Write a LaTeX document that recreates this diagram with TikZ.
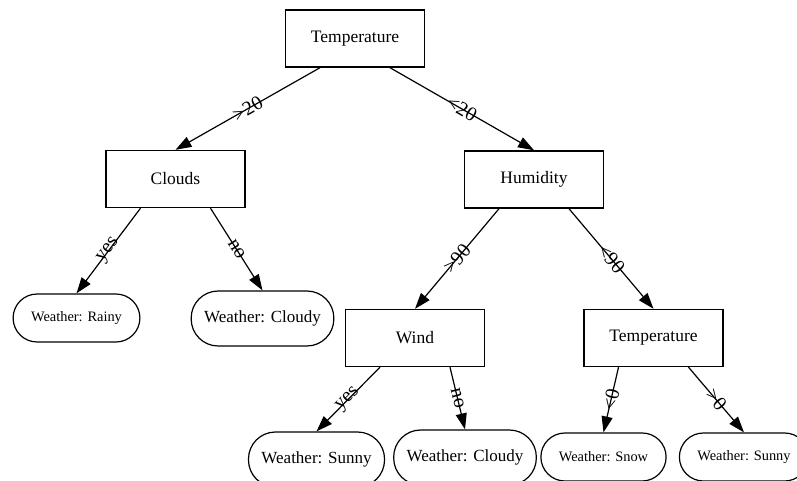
\documentclass[tikz,border=0pt]{standalone}
\usepackage{fontspec}
\setmainfont{Liberation Serif}
\usetikzlibrary{arrows.meta}
\tikzset{
    >={Triangle[length=16pt,width=11pt]},
    boks/.style={
           rectangle,
           draw=black, line width=1.4pt,
           minimum width=139pt,
           minimum height=57pt,
           font=\fontsize{17.5pt}{20pt}\selectfont,
           text centered},
    blad/.style={
           rectangle,
           draw=black, line width=1.2pt,
           rounded corners=27pt,
           minimum height=55pt,
           inner xsep=13pt,
           font=\fontsize{17pt}{20pt}\selectfont},
    smaablad/.style={
           blad,
           rounded corners=24pt,
           minimum height=48pt,
           inner xsep=18pt,
           font=\fontsize{14.4pt}{17pt}\selectfont},
    pil/.style={
           ->,
           line width=1.2pt},
    etiket/.style={
           midway, sloped,
           inner sep=0pt,
           font=\fontsize{20pt}{22pt}\selectfont}
}
\begin{document}
\begin{tikzpicture}[x=1pt,y=-1pt]
          \def \dx {35pt}
          \useasboundingbox (0,0) rectangle (797,481);
          \node[boks](rodtemp) at (355,38.5) {Temperature};
          \node[boks](clouds) at (175.5,179) {Clouds};
          \node[boks](humidity) at (534,179.5) {Humidity};
          \node[boks](wind) at (415,338) {Wind};
          \node[boks](temp) at (653.5,338) {Temperature};
          \node[smaablad](rainy) at (76.5,318) {Weather: Rainy};
          \node[blad](cloudya) at (262.5,318.5) {Weather: Cloudy};
          \node[blad](sunnya) at (316.5,459.5) {Weather: Sunny};
          \node[blad](cloudyb) at (465,457.5) {Weather: Cloudy};
          \node[smaablad](snow) at (603.5,457) {Weather: Snow};
          \node[smaablad](sunnyb) at (744,457) {Weather: Sunny};
          \draw[pil] ([xshift=-\dx]rodtemp.south) -- node[etiket]{>20} (clouds.north);
          \draw[pil] ([xshift=\dx]rodtemp.south) -- node[etiket]{<20} (humidity.north);
          \draw[pil] ([xshift=-\dx]clouds.south) -- node[etiket]{yes} (rainy.north);
          \draw[pil] ([xshift=\dx]clouds.south) -- node[etiket]{no} (cloudya.north);
          \draw[pil] ([xshift=-\dx]humidity.south) -- node[etiket]{>90} (wind.north);
          \draw[pil] ([xshift=\dx]humidity.south) -- node[etiket]{<90} (temp.north);
          \draw[pil] ([xshift=-\dx]wind.south) -- node[etiket]{yes} (sunnya.north);
          \draw[pil] ([xshift=\dx]wind.south) -- node[etiket]{no} (cloudyb.north);
          \draw[pil] ([xshift=-\dx]temp.south) -- node[etiket]{<0} (snow.north);
          \draw[pil] ([xshift=\dx]temp.south) -- node[etiket]{>0} (sunnyb.north);
\end{tikzpicture}
\end{document}
